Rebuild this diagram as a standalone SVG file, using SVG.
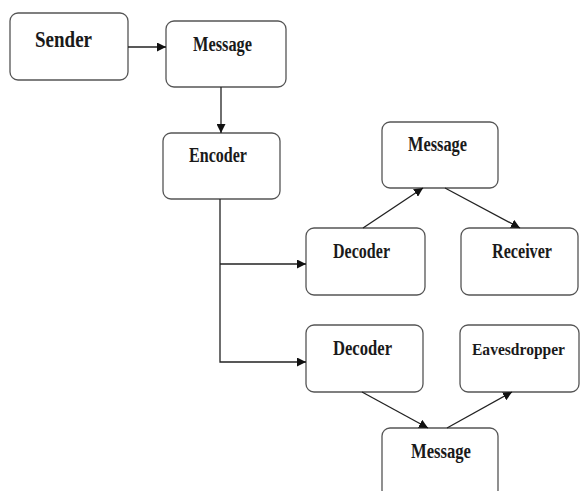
<svg xmlns="http://www.w3.org/2000/svg" width="581" height="491" viewBox="0 0 581 491">
<defs>
<marker id="ah" viewBox="0 0 10 10" refX="10" refY="5" markerWidth="9" markerHeight="9" markerUnits="userSpaceOnUse" orient="auto">
<path d="M0,0 L10,5 L0,10 z" fill="#111"/>
</marker>
<style>
.box{fill:#fff;stroke:#555;stroke-width:1.3}
.t{font-family:"Liberation Serif","Times New Roman",serif;font-weight:bold;font-size:20px;fill:#1a1a1a}
.c{fill:none;stroke:#222;stroke-width:1.3}
</style>
</defs>
<rect width="581" height="491" fill="#fff"/>
<g id="sender"><rect class="box" x="10" y="13" width="118" height="67" rx="8"/><text class="t" x="35" y="47" style="font-size:23px" textLength="57" lengthAdjust="spacingAndGlyphs">Sender</text></g>
<g id="message1"><rect class="box" x="166" y="21" width="120" height="66" rx="8"/><text class="t" x="193" y="51" textLength="59" lengthAdjust="spacingAndGlyphs">Message</text></g>
<g id="encoder"><rect class="box" x="163" y="133" width="117" height="66" rx="8"/><text class="t" x="189" y="162" textLength="58" lengthAdjust="spacingAndGlyphs">Encoder</text></g>
<g id="message2"><rect class="box" x="382" y="122" width="116" height="66" rx="8"/><text class="t" x="408" y="151" textLength="59" lengthAdjust="spacingAndGlyphs">Message</text></g>
<g id="decoder1"><rect class="box" x="306" y="228" width="119" height="67" rx="8"/><text class="t" x="333" y="258" textLength="57" lengthAdjust="spacingAndGlyphs">Decoder</text></g>
<g id="receiver"><rect class="box" x="461" y="228" width="117" height="67" rx="8"/><text class="t" x="492" y="258" textLength="60" lengthAdjust="spacingAndGlyphs">Receiver</text></g>
<g id="decoder2"><rect class="box" x="306" y="325" width="117" height="67" rx="8"/><text class="t" x="333" y="355" textLength="59" lengthAdjust="spacingAndGlyphs">Decoder</text></g>
<g id="eavesdropper"><rect class="box" x="460" y="325" width="119" height="67" rx="8"/><text class="t" x="472" y="355" style="font-size:17.5px" textLength="93" lengthAdjust="spacingAndGlyphs">Eavesdropper</text></g>
<g id="message3"><rect class="box" x="382" y="428" width="116" height="70" rx="8"/><text class="t" x="411" y="458" textLength="60" lengthAdjust="spacingAndGlyphs">Message</text></g>
<g id="connectors">
<line class="c" x1="128" y1="47" x2="166" y2="47" marker-end="url(#ah)"/>
<line class="c" x1="221" y1="87" x2="221" y2="133" marker-end="url(#ah)"/>
<polyline class="c" points="220,199 220,362 306,362" marker-end="url(#ah)"/>
<line class="c" x1="220" y1="264" x2="306" y2="264" marker-end="url(#ah)"/>
<line class="c" x1="363" y1="228" x2="423" y2="188" marker-end="url(#ah)"/>
<line class="c" x1="445" y1="188" x2="520" y2="228" marker-end="url(#ah)"/>
<line class="c" x1="362" y1="392" x2="428" y2="428" marker-end="url(#ah)"/>
<line class="c" x1="447" y1="428" x2="512" y2="392" marker-end="url(#ah)"/>
</g>
</svg>
